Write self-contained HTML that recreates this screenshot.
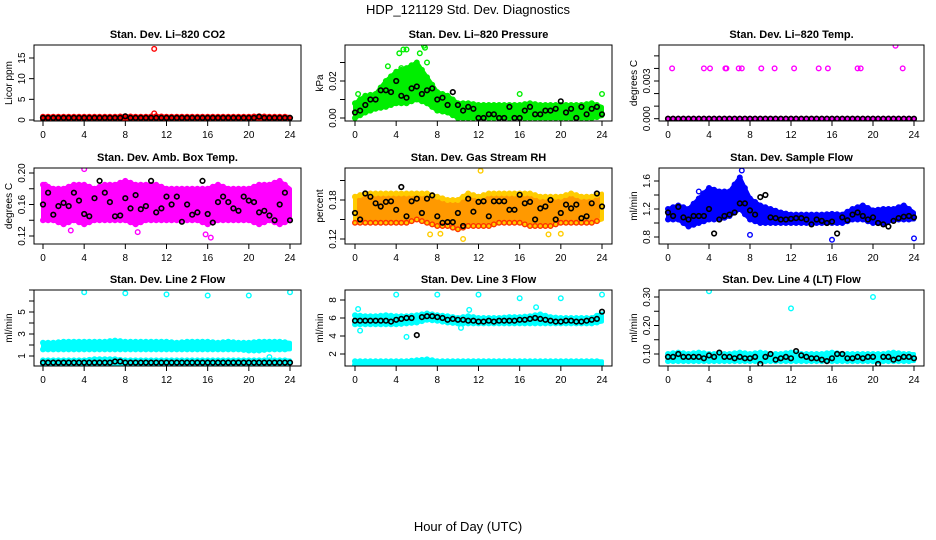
<!DOCTYPE html>
<html><head><meta charset="utf-8"><style>
html,body{margin:0;padding:0;background:#fff;}
svg{display:block;font-family:"Liberation Sans",sans-serif;}
</style></head><body>
<svg id="chart" width="936" height="540" viewBox="0 0 936 540">
<text x="468" y="14" text-anchor="middle" font-size="13">HDP_121129  Std. Dev. Diagnostics</text>
<text x="468" y="531" text-anchor="middle" font-size="13">Hour of Day (UTC)</text>
</svg>
<script>
const hoursBand=[0,1,2,3,4,5,6,7,8,9,10,11,12,13,14,15,16,17,18,19,20,21,22,23,24];
const hoursBlk=[0,0.5,1,1.5,2,2.5,3,3.5,4,4.5,5,5.5,6,6.5,7,7.5,8,8.5,9,9.5,10,10.5,11,11.5,12,12.5,13,13.5,14,14.5,15,15.5,16,16.5,17,17.5,18,18.5,19,19.5,20,20.5,21,21.5,22,22.5,23,23.5,24];
const xTicks=[0,4,8,12,16,20,24];

const co2Lo=[0.2,0.2,0.2,0.2,0.2,0.2,0.2,0.2,0.2,0.2,0.2,0.2,0.2,0.2,0.2,0.2,0.2,0.2,0.2,0.2,0.2,0.2,0.2,0.2,0.2];
const co2Hi=[0.8,0.8,0.8,0.8,0.8,0.8,0.8,0.8,0.9,0.8,0.8,0.9,0.8,0.8,0.8,0.8,0.8,0.8,0.8,0.8,0.8,0.9,0.8,0.8,0.8];
const co2Blk=[0.5,0.5,0.5,0.5,0.5,0.5,0.5,0.5,0.5,0.5,0.5,0.5,0.5,0.5,0.5,0.5,0.9,0.5,0.5,0.5,0.5,0.5,0.5,0.5,0.5,0.5,0.5,0.5,0.5,0.5,0.5,0.5,0.5,0.5,0.5,0.5,0.5,0.5,0.5,0.5,0.5,0.5,0.8,0.5,0.5,0.5,0.5,0.5,0.5];
const co2OutH=[10.8,10.8];
const co2OutV=[17.2,1.6];

const presLo=[0.000,0.003,0.005,0.006,0.008,0.008,0.010,0.008,0.004,0.003,0.000,0.000,0.000,0.000,0.000,0.000,0.000,0.000,0.000,0.000,0.000,0.000,0.000,0.000,0.001];
const presHi=[0.008,0.012,0.013,0.020,0.025,0.027,0.030,0.022,0.014,0.012,0.008,0.008,0.007,0.007,0.007,0.007,0.007,0.008,0.007,0.007,0.007,0.007,0.007,0.008,0.006];
const presBlk=[0.003,0.004,0.007,0.010,0.010,0.015,0.015,0.014,0.020,0.012,0.011,0.016,0.017,0.013,0.015,0.016,0.010,0.011,0.007,0.014,0.007,0.004,0.006,0.005,0.000,0.000,0.002,0.002,0.000,0.000,0.006,0.000,0.000,0.004,0.006,0.002,0.002,0.004,0.004,0.005,0.009,0.003,0.005,0.000,0.006,0.002,0.005,0.006,0.002];
const presOutH=[4.3,4.7,5.0,6.3,6.7,6.8,7.0,3.2,4.5,16,24,0.3];
const presOutV=[0.035,0.037,0.037,0.035,0.039,0.038,0.030,0.028,0.027,0.013,0.013,0.013];

const tempLo=[0,0,0,0,0,0,0,0,0,0,0,0,0,0,0,0,0,0,0,0,0,0,0,0,0];
const tempHi=[0,0,0,0,0,0,0,0,0,0,0,0,0,0,0,0,0,0,0,0,0,0,0,0,0];
const tempBlk=[0,0,0,0,0,0,0,0,0,0,0,0,0,0,0,0,0,0,0,0,0,0,0,0,0,0,0,0,0,0,0,0,0,0,0,0,0,0,0,0,0,0,0,0,0,0,0,0,0];
const tempOutH=[0.4,3.5,4.1,5.6,5.7,6.9,7.2,9.1,10.4,12.3,14.7,15.6,18.5,18.8,22.9,22.2];
const tempOutV=[0.004,0.004,0.004,0.004,0.004,0.004,0.004,0.004,0.004,0.004,0.004,0.004,0.004,0.004,0.004,0.0058];

const ambLo=[0.14,0.14,0.135,0.14,0.135,0.14,0.14,0.14,0.14,0.135,0.14,0.14,0.14,0.14,0.14,0.14,0.135,0.14,0.14,0.14,0.14,0.135,0.14,0.135,0.14];
const ambHi=[0.185,0.18,0.18,0.185,0.185,0.18,0.185,0.185,0.19,0.185,0.185,0.185,0.18,0.18,0.18,0.18,0.18,0.185,0.18,0.18,0.18,0.185,0.185,0.19,0.18];
const ambBlk=[0.16,0.175,0.147,0.158,0.162,0.158,0.175,0.165,0.148,0.145,0.168,0.19,0.175,0.163,0.145,0.146,0.168,0.155,0.172,0.154,0.158,0.19,0.15,0.155,0.17,0.16,0.17,0.138,0.16,0.147,0.15,0.19,0.148,0.137,0.163,0.17,0.163,0.155,0.152,0.17,0.165,0.163,0.15,0.152,0.146,0.14,0.16,0.175,0.14];
const ambOutH=[4.0,2.7,15.8,16.3,9.2,0.2];
const ambOutV=[0.205,0.127,0.122,0.118,0.125,0.185];

const rhLo=[0.145,0.145,0.145,0.145,0.145,0.145,0.15,0.145,0.14,0.14,0.135,0.14,0.14,0.14,0.145,0.145,0.145,0.14,0.14,0.14,0.145,0.145,0.145,0.145,0.15];
const rhHi=[0.185,0.19,0.19,0.19,0.19,0.19,0.19,0.19,0.185,0.18,0.18,0.19,0.185,0.19,0.19,0.19,0.19,0.19,0.185,0.185,0.185,0.19,0.185,0.185,0.19];
const rhBlk=[0.16,0.15,0.19,0.185,0.175,0.17,0.177,0.178,0.165,0.20,0.155,0.178,0.182,0.16,0.182,0.187,0.155,0.145,0.146,0.146,0.16,0.14,0.182,0.162,0.177,0.178,0.155,0.178,0.178,0.178,0.165,0.165,0.188,0.175,0.177,0.15,0.167,0.17,0.18,0.15,0.16,0.173,0.167,0.173,0.152,0.155,0.175,0.19,0.17];
const rhOutH=[12.2,8.3,10.5,7.3,18.8,20.0];
const rhOutV=[0.225,0.128,0.12,0.127,0.127,0.128];

const flowLo=[1.05,1.05,0.95,1.0,1.05,1.05,1.1,1.2,1.05,1.0,1.0,1.0,1.0,1.0,1.0,1.0,1.0,1.0,1.05,1.05,1.0,1.0,1.05,1.05,1.05];
const flowHi=[1.2,1.25,1.2,1.35,1.5,1.45,1.45,1.65,1.35,1.25,1.2,1.15,1.12,1.12,1.12,1.12,1.13,1.12,1.2,1.25,1.18,1.2,1.2,1.25,1.15];
const flowBlk=[1.15,1.1,1.23,1.08,1.05,1.1,1.1,1.1,1.2,0.85,1.05,1.1,1.12,1.15,1.28,1.28,1.18,1.12,1.37,1.4,1.08,1.07,1.05,1.05,1.06,1.07,1.07,1.05,0.98,1.05,1.03,1.0,1.02,0.85,1.08,1.04,1.12,1.15,1.1,1.05,1.08,1.0,0.98,0.95,1.03,1.07,1.09,1.1,1.08];
const flowOutH=[7.2,8.0,24,16,3.0,7.0];
const flowOutV=[1.75,0.83,0.78,0.76,1.45,1.62];

const l2Lo=[1.6,1.6,1.6,1.6,1.6,1.6,1.6,1.6,1.6,1.6,1.6,1.6,1.6,1.6,1.6,1.6,1.6,1.6,1.6,1.6,1.5,1.5,1.6,1.6,1.6];
const l2Hi=[2.2,2.2,2.3,2.3,2.3,2.3,2.3,2.4,2.3,2.3,2.3,2.3,2.3,2.2,2.3,2.3,2.3,2.2,2.3,2.2,2.2,2.3,2.3,2.3,2.2];
const l2Lo2=[0.3,0.3,0.3,0.3,0.3,0.3,0.3,0.3,0.3,0.3,0.3,0.3,0.3,0.3,0.3,0.3,0.3,0.3,0.3,0.3,0.3,0.3,0.3,0.3,0.3];
const l2Hi2=[0.6,0.6,0.6,0.6,0.6,0.7,0.7,0.7,0.6,0.6,0.6,0.6,0.6,0.6,0.6,0.6,0.6,0.6,0.6,0.6,0.6,0.6,0.6,0.6,0.6];
const l2Blk=[0.4,0.4,0.4,0.4,0.4,0.4,0.4,0.4,0.4,0.4,0.4,0.4,0.4,0.4,0.5,0.5,0.4,0.4,0.4,0.4,0.4,0.4,0.4,0.4,0.4,0.4,0.4,0.4,0.4,0.4,0.4,0.4,0.4,0.4,0.4,0.4,0.4,0.4,0.4,0.4,0.4,0.4,0.4,0.4,0.4,0.4,0.4,0.4,0.4];
const l2OutH=[4,8,12,16,20,24,22];
const l2OutV=[6.8,6.7,6.6,6.5,6.5,6.8,0.9];

const l3Lo=[0.8,0.8,0.8,0.8,0.8,0.8,0.8,0.8,0.8,0.8,0.8,0.8,0.8,0.8,0.8,0.8,0.8,0.8,0.8,0.8,0.8,0.8,0.8,0.8,0.8];
const l3Hi=[1.2,1.2,1.2,1.2,1.2,1.2,1.3,1.4,1.2,1.2,1.2,1.2,1.2,1.2,1.2,1.2,1.2,1.2,1.2,1.2,1.2,1.2,1.2,1.2,1.2];
const l3Lo2=[5.3,5.3,5.3,5.3,5.3,5.4,5.5,5.8,5.7,5.5,5.4,5.4,5.4,5.4,5.4,5.4,5.4,5.4,5.4,5.4,5.4,5.4,5.4,5.4,5.6];
const l3Hi2=[6.3,6.2,6.2,6.3,6.2,6.2,6.3,6.5,6.3,6.2,6.0,6.2,6.0,6.0,6.0,6.1,6.1,6.2,6.4,6.1,6.0,6.0,6.0,6.0,6.5];
const l3Blk=[5.7,5.7,5.7,5.7,5.7,5.7,5.7,5.6,5.8,5.9,6.0,6.0,4.1,6.1,6.2,6.2,6.1,6.0,5.8,5.9,5.8,5.8,5.7,5.7,5.6,5.6,5.7,5.6,5.7,5.7,5.7,5.7,5.8,5.8,5.9,6.0,5.9,5.8,5.7,5.6,5.6,5.7,5.7,5.6,5.6,5.7,5.8,5.9,6.7];
const l3OutH=[4,8,12,16,20,24,0.3,0.5,5.0,10.3,11.1,17.6];
const l3OutV=[8.6,8.6,8.6,8.2,8.2,8.6,7.0,4.6,3.9,4.9,6.9,7.2];

const l4Lo=[0.075,0.075,0.075,0.075,0.075,0.075,0.075,0.075,0.075,0.075,0.075,0.075,0.075,0.075,0.075,0.075,0.075,0.075,0.075,0.075,0.075,0.075,0.075,0.075,0.075];
const l4Hi=[0.1,0.105,0.1,0.105,0.1,0.1,0.1,0.105,0.1,0.105,0.1,0.1,0.105,0.1,0.1,0.1,0.105,0.1,0.1,0.1,0.1,0.1,0.105,0.1,0.1];
const l4Blk=[0.09,0.09,0.1,0.09,0.09,0.09,0.09,0.085,0.095,0.09,0.105,0.09,0.09,0.085,0.09,0.085,0.085,0.09,0.065,0.09,0.1,0.08,0.085,0.09,0.085,0.11,0.095,0.09,0.085,0.085,0.08,0.075,0.085,0.1,0.1,0.085,0.085,0.09,0.085,0.09,0.09,0.065,0.09,0.09,0.08,0.085,0.09,0.09,0.085];
const l4OutH=[4,12,20];
const l4OutV=[0.32,0.26,0.30];

const NS='http://www.w3.org/2000/svg';
const svg=document.getElementById('chart');
function mk(tag,attrs,parent){const e=document.createElementNS(NS,tag);for(const k in attrs)e.setAttribute(k,attrs[k]);(parent||svg).appendChild(e);return e;}

const cols=[{l:34,r:301,x0:43,x24:290},{l:345,r:612,x0:355,x24:602},{l:659,r:924,x0:668,x24:914}];
const rows=[{t:45,b:121},{t:168,b:244},{t:290,b:366}];

const panels=[
 {c:0,r:0,name:'co2',title:'Stan. Dev. Li\u2013820 CO2',ylab:'Licor ppm',col:'#ff0000',v0:0,p0:120,v1:15,p1:58,ticks:[0,5,10,15],labs:['0','5','10','15'],lo:co2Lo,hi:co2Hi,blk:co2Blk,oh:co2OutH,ov:co2OutV},
 {c:1,r:0,name:'pressure',title:'Stan. Dev. Li\u2013820 Pressure',ylab:'kPa',col:'#00ee00',v0:0,p0:118,v1:0.02,p1:81,ticks:[0,0.01,0.02,0.03],labs:['0.00','','0.02',''],lo:presLo,hi:presHi,blk:presBlk,oh:presOutH,ov:presOutV},
 {c:2,r:0,name:'li820-temp',title:'Stan. Dev. Li\u2013820 Temp.',ylab:'degrees C',col:'#ff00ff',v0:0,p0:118.7,v1:0.003,p1:81,ticks:[0,0.001,0.002,0.003,0.004,0.005],labs:['0.000','','','0.003','',''],lo:tempLo,hi:tempHi,blk:tempBlk,oh:tempOutH,ov:tempOutV},
 {c:0,r:1,name:'amb-temp',title:'Stan. Dev. Amb. Box Temp.',ylab:'degrees C',col:'#ff00ff',v0:0.12,p0:236,v1:0.20,p1:173,ticks:[0.12,0.14,0.16,0.18,0.20],labs:['0.12','','0.16','','0.20'],lo:ambLo,hi:ambHi,blk:ambBlk,oh:ambOutH,ov:ambOutV},
 {c:1,r:1,name:'gas-rh',title:'Stan. Dev. Gas Stream RH',ylab:'percent',col:'#ffcc00',col2:'#ff3300',v0:0.12,p0:239,v1:0.18,p1:200,ticks:[0.12,0.15,0.18,0.21],labs:['0.12','','0.18',''],lo:rhLo,hi:rhHi,blk:rhBlk,oh:rhOutH,ov:rhOutV},
 {c:2,r:1,name:'sample-flow',title:'Stan. Dev. Sample Flow',ylab:'ml/min',col:'#0000ff',v0:0.8,p0:237,v1:1.6,p1:181,ticks:[0.8,1.0,1.2,1.4,1.6],labs:['0.8','','1.2','','1.6'],lo:flowLo,hi:flowHi,blk:flowBlk,oh:flowOutH,ov:flowOutV},
 {c:0,r:2,name:'line2-flow',title:'Stan. Dev. Line 2 Flow',ylab:'ml/min',col:'#00ffff',v0:1,p0:356,v1:5,p1:312,ticks:[1,2,3,4,5,6,7],labs:['1','','3','','5','',''],lo:l2Lo,hi:l2Hi,lo2:l2Lo2,hi2:l2Hi2,blk:l2Blk,oh:l2OutH,ov:l2OutV},
 {c:1,r:2,name:'line3-flow',title:'Stan. Dev. Line 3 Flow',ylab:'ml/min',col:'#00ffff',v0:2,p0:354,v1:8,p1:300,ticks:[2,4,6,8],labs:['2','4','6','8'],lo:l3Lo,hi:l3Hi,lo2:l3Lo2,hi2:l3Hi2,blk:l3Blk,oh:l3OutH,ov:l3OutV},
 {c:2,r:2,name:'line4-flow',title:'Stan. Dev. Line 4 (LT) Flow',ylab:'ml/min',col:'#00ffff',v0:0.1,p0:354,v1:0.3,p1:297,ticks:[0.10,0.15,0.20,0.25,0.30],labs:['0.10','','0.20','','0.30'],lo:l4Lo,hi:l4Hi,blk:l4Blk,oh:l4OutH,ov:l4OutV}
];

function circ(g,x,y,color,name,sw){
  const c=mk('circle',{cx:x.toFixed(1),cy:y.toFixed(1),r:2.3,fill:'none',stroke:color,'stroke-width':sw||1.4},g);
  
  
}

panels.forEach(p=>{
  const C=cols[p.c],R=rows[p.r];
  const xs=h=>C.x0+(C.x24-C.x0)*h/24;
  const ys=v=>p.p0+(p.p1-p.p0)*(v-p.v0)/(p.v1-p.v0);
  const g=mk('g',{});
  
  
  const clip=mk('clipPath',{id:'clip-'+p.name},g);
  mk('rect',{x:C.l,y:R.t,width:C.r-C.l,height:R.b-R.t},clip);
  const plot=mk('g',{'clip-path':'url(#clip-'+p.name+')'},g);
  
  
  const bands=[[p.lo,p.hi]];
  if(p.lo2)bands.push([p.lo2,p.hi2]);
  bands.forEach(([lo,hi])=>{
    let d='';
    hoursBand.forEach((h,i)=>{d+=(i?'L':'M')+xs(h).toFixed(1)+' '+ys(hi[i]).toFixed(1);});
    for(let i=hoursBand.length-1;i>=0;i--)d+='L'+xs(hoursBand[i]).toFixed(1)+' '+ys(lo[i]).toFixed(1);
    const band=mk('path',{d:d+'Z',fill:p.col2?'#ff9900':p.col,stroke:p.col,'stroke-width':4,'stroke-linejoin':'round'},plot);
    
    
    for(let i=0;i<hoursBand.length-1;i++){
      for(let k=0;k<2;k++){
        const hh=hoursBand[i]+k*0.5;
        const vlo=lo[i]+(lo[i+1]-lo[i])*k*0.5, vhi=hi[i]+(hi[i+1]-hi[i])*k*0.5;
        circ(plot,xs(hh),ys(vlo),p.col2||p.col,p.name+'-point');
        circ(plot,xs(hh),ys(vhi),p.col,p.name+'-point');
      }
    }
  });
  p.oh.forEach((h,i)=>circ(plot,xs(h),ys(p.ov[i]),p.col,p.name+'-outlier'));
  hoursBlk.forEach((h,i)=>circ(plot,xs(h),ys(p.blk[i]),'#000',p.name+'-mean-point',1.6));
  const box=mk('rect',{x:C.l,y:R.t,width:C.r-C.l,height:R.b-R.t,fill:'none',stroke:'#000','stroke-width':1},g);
  
  
  const t=mk('text',{x:(C.l+C.r)/2,y:R.t-7,'text-anchor':'middle','font-size':11,'font-weight':'bold'},g);
  t.textContent=p.title;
  
  
  const xa=mk('g',{},g);
  
  
  mk('line',{x1:xs(0),x2:xs(24),y1:R.b,y2:R.b,stroke:'#000'},xa);
  xTicks.forEach(h=>{
    mk('line',{x1:xs(h),x2:xs(h),y1:R.b,y2:R.b+5,stroke:'#000'},xa);
    const tl=mk('text',{x:xs(h),y:R.b+17,'text-anchor':'middle','font-size':10},xa);
    tl.textContent=h;
    
    
  });
  const ya=mk('g',{},g);
  
  
  const tk=p.ticks;
  mk('line',{x1:C.l,x2:C.l,y1:ys(tk[0]),y2:ys(tk[tk.length-1]),stroke:'#000'},ya);
  tk.forEach((v,i)=>{
    const y=ys(v);
    mk('line',{x1:C.l-5,x2:C.l,y1:y,y2:y,stroke:'#000'},ya);
    if(p.labs[i]){
      const tl=mk('text',{x:0,y:0,'text-anchor':'middle','font-size':10,transform:'translate('+(C.l-9)+','+y.toFixed(1)+') rotate(-90)'},ya);
      tl.textContent=p.labs[i];
      
      
    }
  });
  const yl=mk('text',{x:0,y:0,'text-anchor':'middle','font-size':10,transform:'translate('+(C.l-22)+','+((R.t+R.b)/2)+') rotate(-90)'},ya);
  yl.textContent=p.ylab;
  
  
});
</script>
</body></html>
